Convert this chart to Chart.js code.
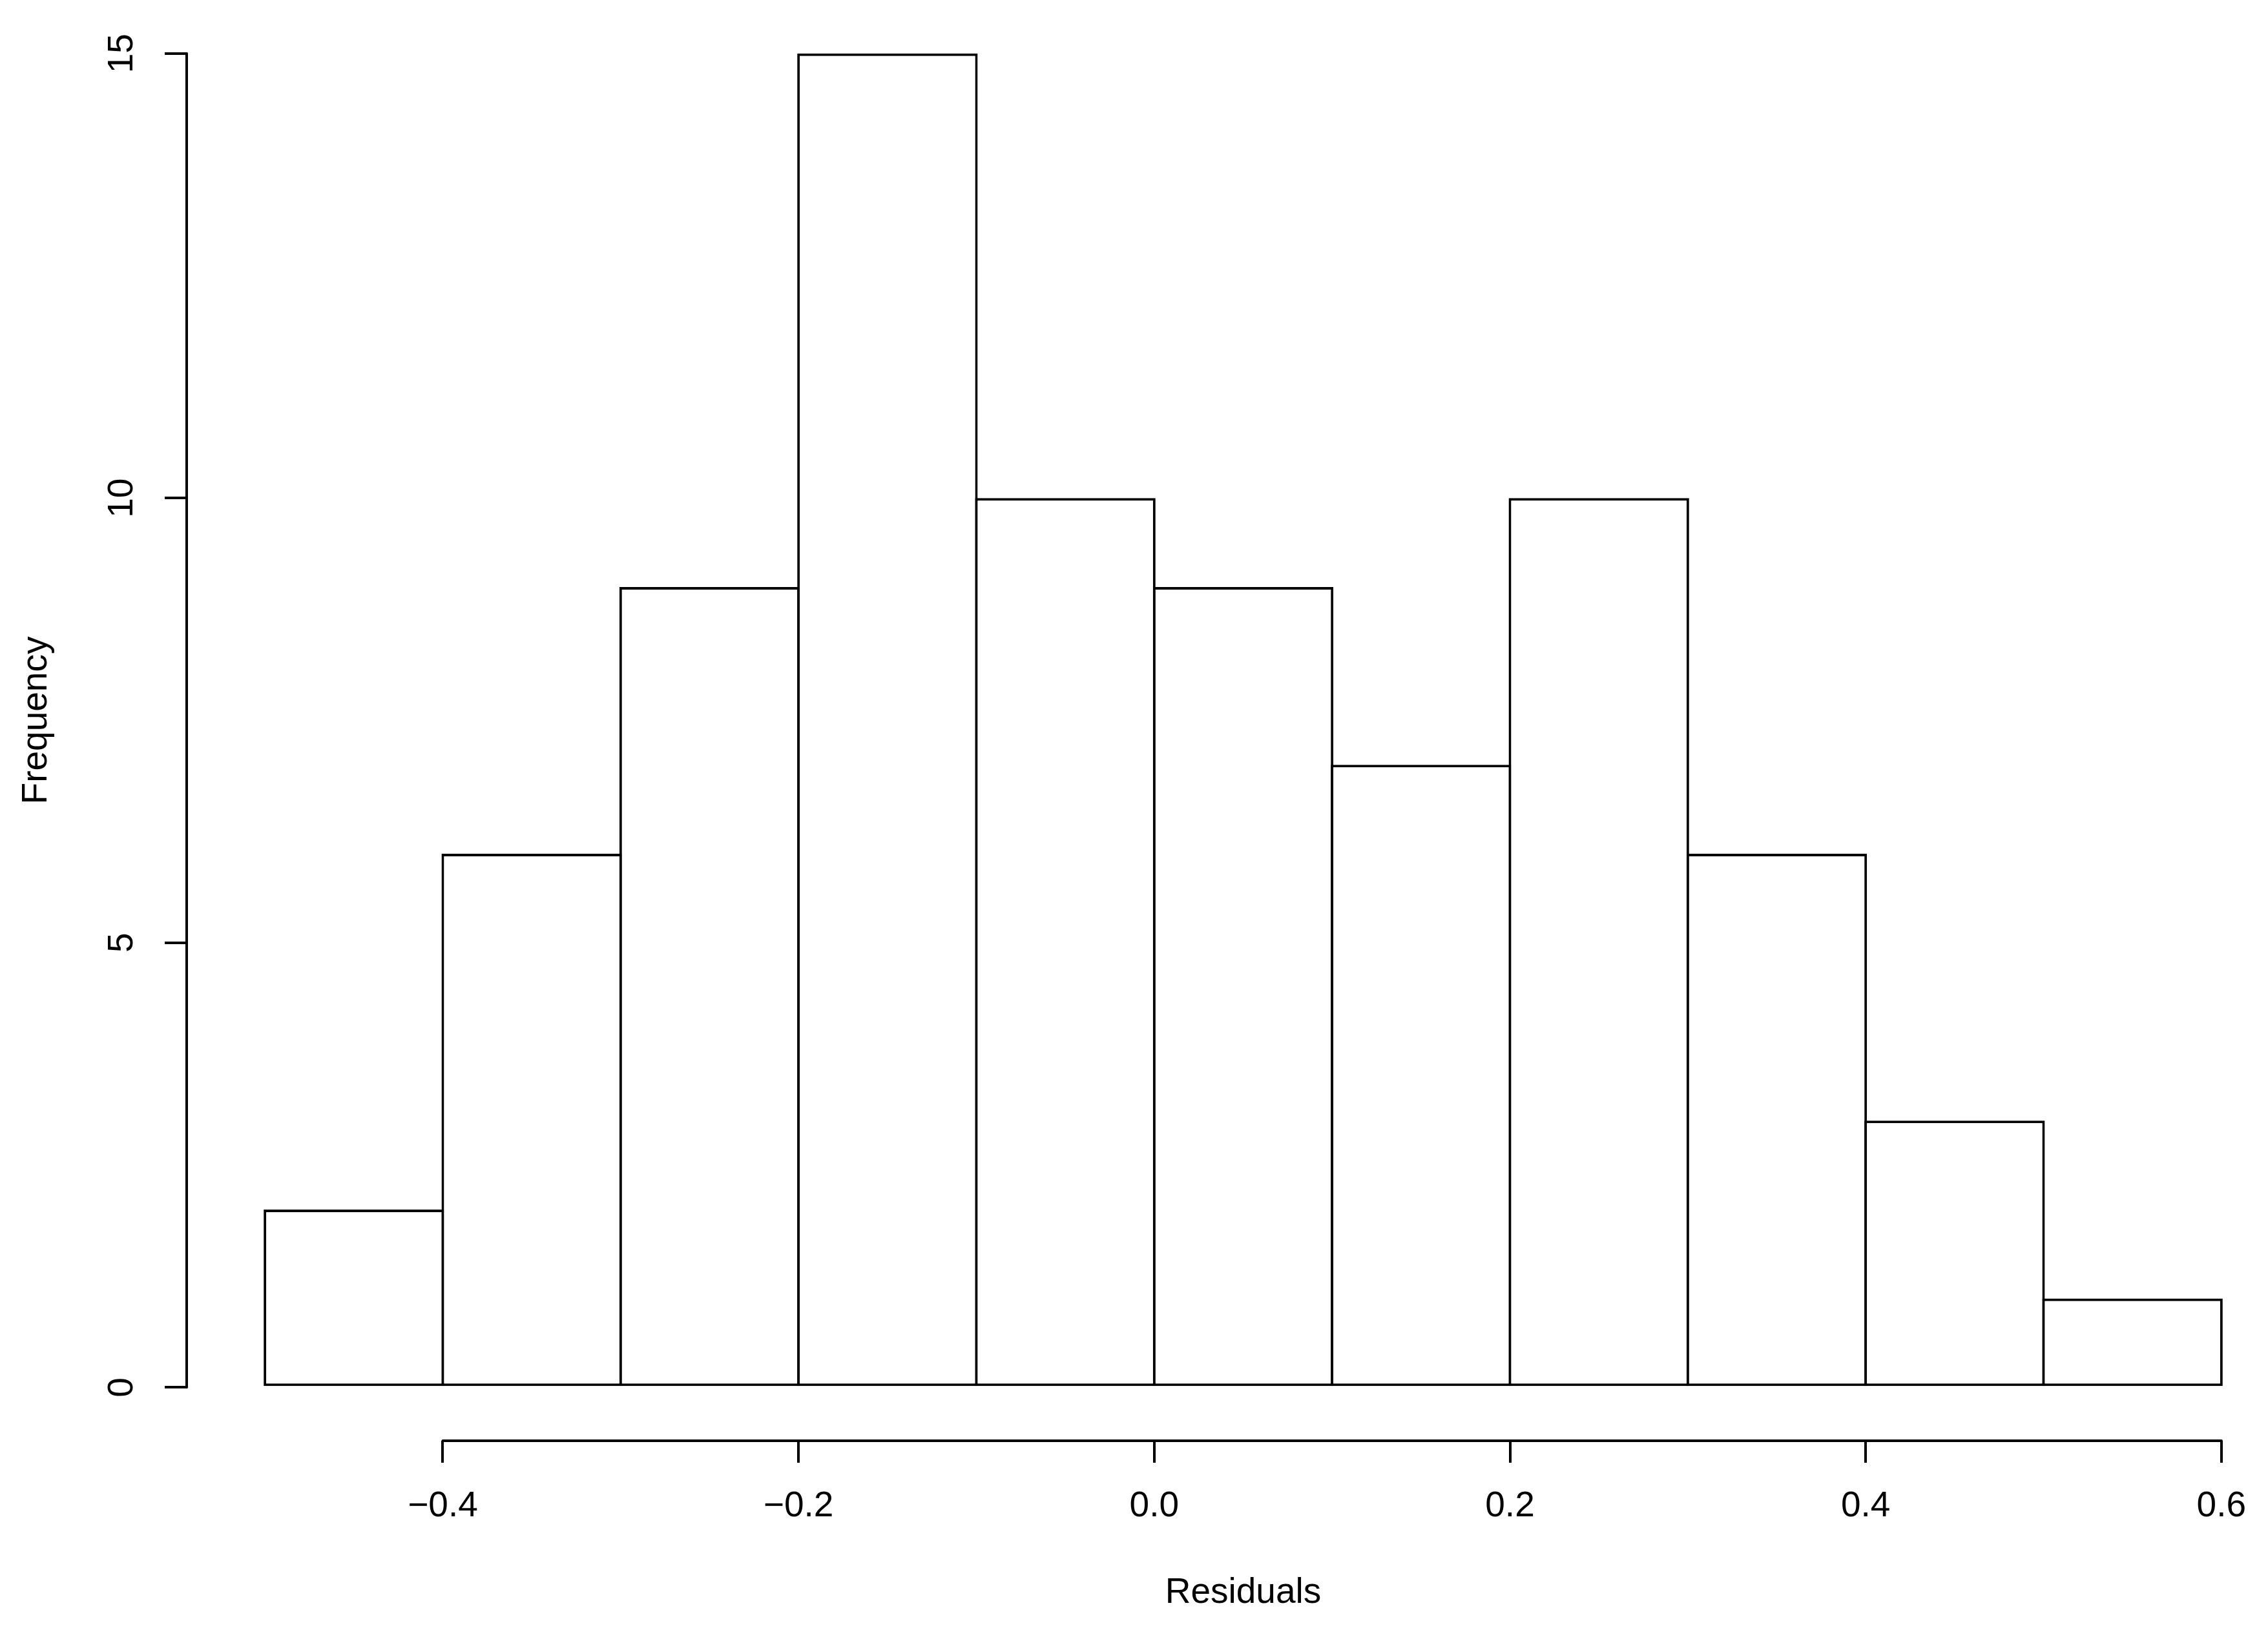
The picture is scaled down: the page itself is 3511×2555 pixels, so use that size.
<!DOCTYPE html>
<html>
<head>
<meta charset="utf-8">
<script src="https://cdn.jsdelivr.net/npm/chart.js@4.4.1/dist/chart.umd.min.js"></script>
<style>
  html,body{margin:0;padding:0;background:#fff;overflow:hidden}
  #main-container{width:3511px;height:2555px;overflow:hidden}
</style>
</head>
<body>
<div id="main-container"><canvas id="hist" width="3600" height="2555"></canvas></div>
<script>
// histogram of residuals, bins of 0.1
const breaks=[-0.5,-0.4,-0.3,-0.2,-0.1,0.0,0.1,0.2,0.3,0.4,0.5,0.6]
const counts=[2,6,9,15,10,9,7,10,6,3,1]
const xTicks=[-0.4,-0.2,0.0,0.2,0.4,0.6]
const xTickLabels=['\u22120.4','\u22120.2','0.0','0.2','0.4','0.6']
const yTicks=[0,5,10,15]
const yTickLabels=['0','5','10','15']
const xTitle='Residuals'
const yTitle='Frequency'

const bars=counts.map((c,i)=>({x:(breaks[i]+breaks[i+1])/2,y:c}))

Chart.defaults.font.family="'Liberation Sans', Arial, Helvetica, sans-serif"
Chart.defaults.font.size=55
Chart.defaults.color='#000'

// R style axis line, only from first to last tick
const axisLines={
  id:'axisLines',
  afterDraw(chart){
    const {ctx,chartArea,scales}=chart
    ctx.save()
    ctx.strokeStyle='#000'
    ctx.lineWidth=4
    ctx.lineCap='round'
    ctx.beginPath()
    ctx.moveTo(scales.x.getPixelForValue(xTicks[0]),chartArea.bottom)
    ctx.lineTo(scales.x.getPixelForValue(xTicks[xTicks.length-1]),chartArea.bottom)
    ctx.moveTo(chartArea.left,scales.y.getPixelForValue(yTicks[0]))
    ctx.lineTo(chartArea.left,scales.y.getPixelForValue(yTicks[yTicks.length-1]))
    ctx.stroke()
    ctx.restore()
  }
}

const tickGrid={display:true,drawOnChartArea:false,drawTicks:true,tickLength:34,color:'#000',lineWidth:4,offset:false}

// keep the plot region where R put it, labels may hang over
function noPad(s){
  s.paddingTop=0
  s.paddingBottom=0
  s.paddingLeft=0
  s.paddingRight=0
}

new Chart(document.getElementById('hist'),{
  type:'bar',
  data:{
    datasets:[{
      data:bars,
      backgroundColor:'#fff',
      borderColor:'#000',
      borderWidth:4,
      borderSkipped:false,
      categoryPercentage:1,
      barPercentage:1.0145
    }]
  },
  options:{
    responsive:false,
    animation:false,
    devicePixelRatio:1,
    layout:{padding:{left:0,top:0,right:40,bottom:0}},
    plugins:{legend:{display:false},tooltip:{enabled:false}},
    scales:{
      x:{
        type:'linear',
        offset:false,
        min:-0.544,
        max:0.644,
        grid:tickGrid,
        border:{display:false},
        afterBuildTicks:s=>{s.ticks=xTicks.map(v=>({value:v}))},
        afterFit:s=>{s.height=324;noPad(s)},
        ticks:{padding:35,maxRotation:0,autoSkip:false,callback:(v,i)=>xTickLabels[i]},
        title:{display:true,text:xTitle,padding:{top:0,bottom:55}}
      },
      y:{
        type:'linear',
        min:-0.6,
        max:15.6,
        grid:tickGrid,
        border:{display:false},
        afterBuildTicks:s=>{s.ticks=yTicks.map(v=>({value:v}))},
        afterFit:s=>{s.width=289;noPad(s)},
        ticks:{padding:35,minRotation:90,maxRotation:90,crossAlign:'center',autoSkip:false,callback:(v,i)=>yTickLabels[i]},
        title:{display:true,text:yTitle,padding:{top:24,bottom:0}}
      }
    }
  },
  plugins:[axisLines]
})
</script>
</body>
</html>
